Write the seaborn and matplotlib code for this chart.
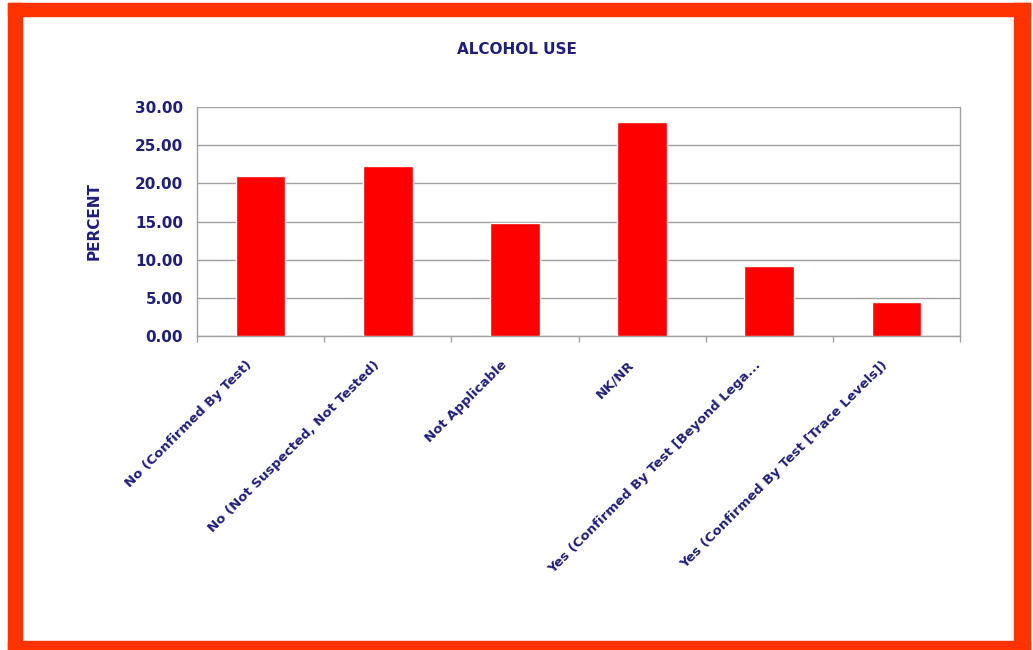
import matplotlib
matplotlib.use("Agg")
import matplotlib.pyplot as plt
from matplotlib.patches import Rectangle
from matplotlib.ticker import FormatStrFormatter, FixedLocator
from matplotlib.transforms import ScaledTranslation
import seaborn as sns
import pandas as pd

categories = [
    "No (Confirmed By Test)",
    "No (Not Suspected, Not Tested)",
    "Not Applicable",
    "NK/NR",
    "Yes (Confirmed By Test [Beyond Lega...",
    "Yes (Confirmed By Test [Trace Levels])",
]
percent = [20.9, 22.3, 14.8, 28.0, 9.2, 4.5]
y_ticks = [0, 5, 10, 15, 20, 25, 30]

navy = "#1f1f7a"
grid_gray = "#a0a0a0"

sns.set_theme(style="white")
plt.rcParams["font.family"] = ["DejaVu Sans"]

W, H = 1033, 650
fig = plt.figure(figsize=(W / 100, H / 100), dpi=100)
fig.patch.set_facecolor("white")

ax = fig.add_axes([197 / W, 1 - 336 / H, 763 / W, 229 / H])
df = pd.DataFrame({"category": categories, "percent": percent})
sns.barplot(data=df, x="category", y="percent", color="#ff0000",
            saturation=1, width=0.39, ax=ax, zorder=3)

ax.set_xlim(-0.5, len(categories) - 0.5)
ax.set_ylim(0, 30)
ax.set_yticks(y_ticks)
ax.yaxis.set_major_formatter(FormatStrFormatter("%.2f"))
ax.grid(axis="y", color=grid_gray, linewidth=1.0, zorder=0)
ax.set_axisbelow(True)

for side in ["left", "bottom", "right"]:
    ax.spines[side].set_visible(True)
    ax.spines[side].set_color(grid_gray)
    ax.spines[side].set_linewidth(1.0)
ax.spines["top"].set_visible(False)

# tick marks at category boundaries, labels at category centres
ax.xaxis.set_minor_locator(FixedLocator([i + 0.5 for i in range(-1, len(categories))]))
ax.tick_params(axis="x", which="minor", length=4, color=grid_gray, width=1, bottom=True)
ax.tick_params(axis="x", which="major", length=0, pad=6)
ax.tick_params(axis="y", length=0, pad=10)

ax.set_xticks(range(len(categories)))
ax.set_xticklabels(categories, rotation=45, ha="right", rotation_mode="anchor",
                   fontsize=9.5, fontweight="bold", color=navy)
shift = ScaledTranslation(-0.15, -0.14, fig.dpi_scale_trans)
for lbl in ax.get_xticklabels():
    lbl.set_transform(lbl.get_transform() + shift)
for lbl in ax.get_yticklabels():
    lbl.set_fontsize(11)
    lbl.set_fontweight("bold")
    lbl.set_color(navy)

ax.set_xlabel("")
ax.set_ylabel("PERCENT", fontsize=11, fontweight="bold", color=navy, labelpad=24)
fig.text(517 / W, 1 - 50 / H, "ALCOHOL USE", ha="center", va="center",
         fontsize=11, fontweight="bold", color=navy)

# orange-red frame around the chart
frame_color = "#ff3300"
fig.patches.append(Rectangle((8 / W, 0), 14 / W, (H - 3) / H, transform=fig.transFigure,
                             color=frame_color, zorder=10))
fig.patches.append(Rectangle((1014 / W, 0), 16 / W, (H - 3) / H, transform=fig.transFigure,
                             color=frame_color, zorder=10))
fig.patches.append(Rectangle((8 / W, 1 - 16 / H), 1022 / W, 13 / H, transform=fig.transFigure,
                             color=frame_color, zorder=10))
fig.patches.append(Rectangle((8 / W, 0), 1022 / W, 9 / H, transform=fig.transFigure,
                             color=frame_color, zorder=10))

fig.savefig("out.png", dpi=100, facecolor="white")
